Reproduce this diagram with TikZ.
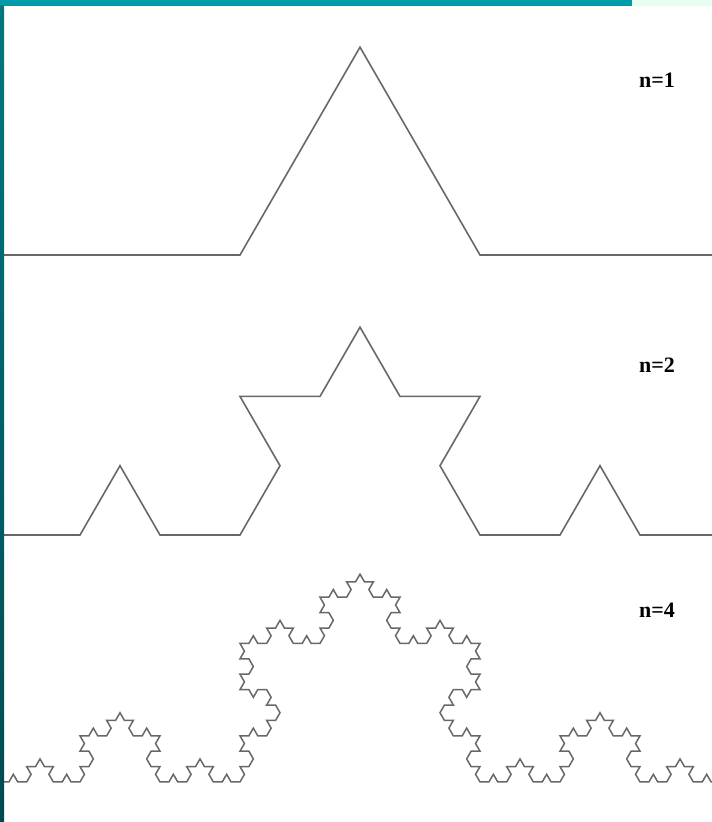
\documentclass[tikz,border=0pt]{standalone}
\usepackage{fontspec}
\setmainfont{Liberation Serif}
\usepackage{xcolor}
\usepackage{tikz}
\usetikzlibrary{lindenmayersystems}

\definecolor{barteal}{RGB}{0,155,170}
\definecolor{sideteal}{RGB}{0,120,126}
\definecolor{sidedark}{RGB}{0,74,82}
\definecolor{palemint}{RGB}{230,255,240}
\definecolor{curvegray}{RGB}{104,104,104}

\pgfdeclarelindenmayersystem{Koch}{\rule{F -> F+F--F+F}}

\begin{document}
\begin{tikzpicture}[x=1pt, y=1pt,
    koch line/.style={curvegray, line width=1.6pt, line join=miter},
    order label/.style={font=\fontsize{22}{24}\selectfont\bfseries, inner sep=0pt}]
  \useasboundingbox (0,0) rectangle (712,822);
  \fill[white] (0,0) rectangle (712,822);
  \begin{scope}
    \clip (0,0) rectangle (712,822);
    % the three stages
    \draw[koch line, shift={(0,567)}, lindenmayer system={Koch, axiom=F, order=1, step=240pt, angle=60}]
      lindenmayer system;
    \draw[koch line, shift={(0,287)}, lindenmayer system={Koch, axiom=F, order=2, step=80pt, angle=60}]
      lindenmayer system;
    \draw[koch line, line width=1.5pt, shift={(0,40)}, lindenmayer system={Koch, axiom=F, order=4, step=8.8889pt, angle=60}]
      lindenmayer system;
  \end{scope}
  \node[order label] (n1) at (657,742) {n=1};
  \node[order label] (n2) at (657,457) {n=2};
  \node[order label] (n4) at (657,212) {n=4};
  % frame bars
  \fill[barteal] (0,816) rectangle (632,822);
  \fill[palemint] (632,816) rectangle (712,822);
  \shade[top color=sideteal, bottom color=sidedark] (0,0) rectangle (4,816);
\end{tikzpicture}
\end{document}
